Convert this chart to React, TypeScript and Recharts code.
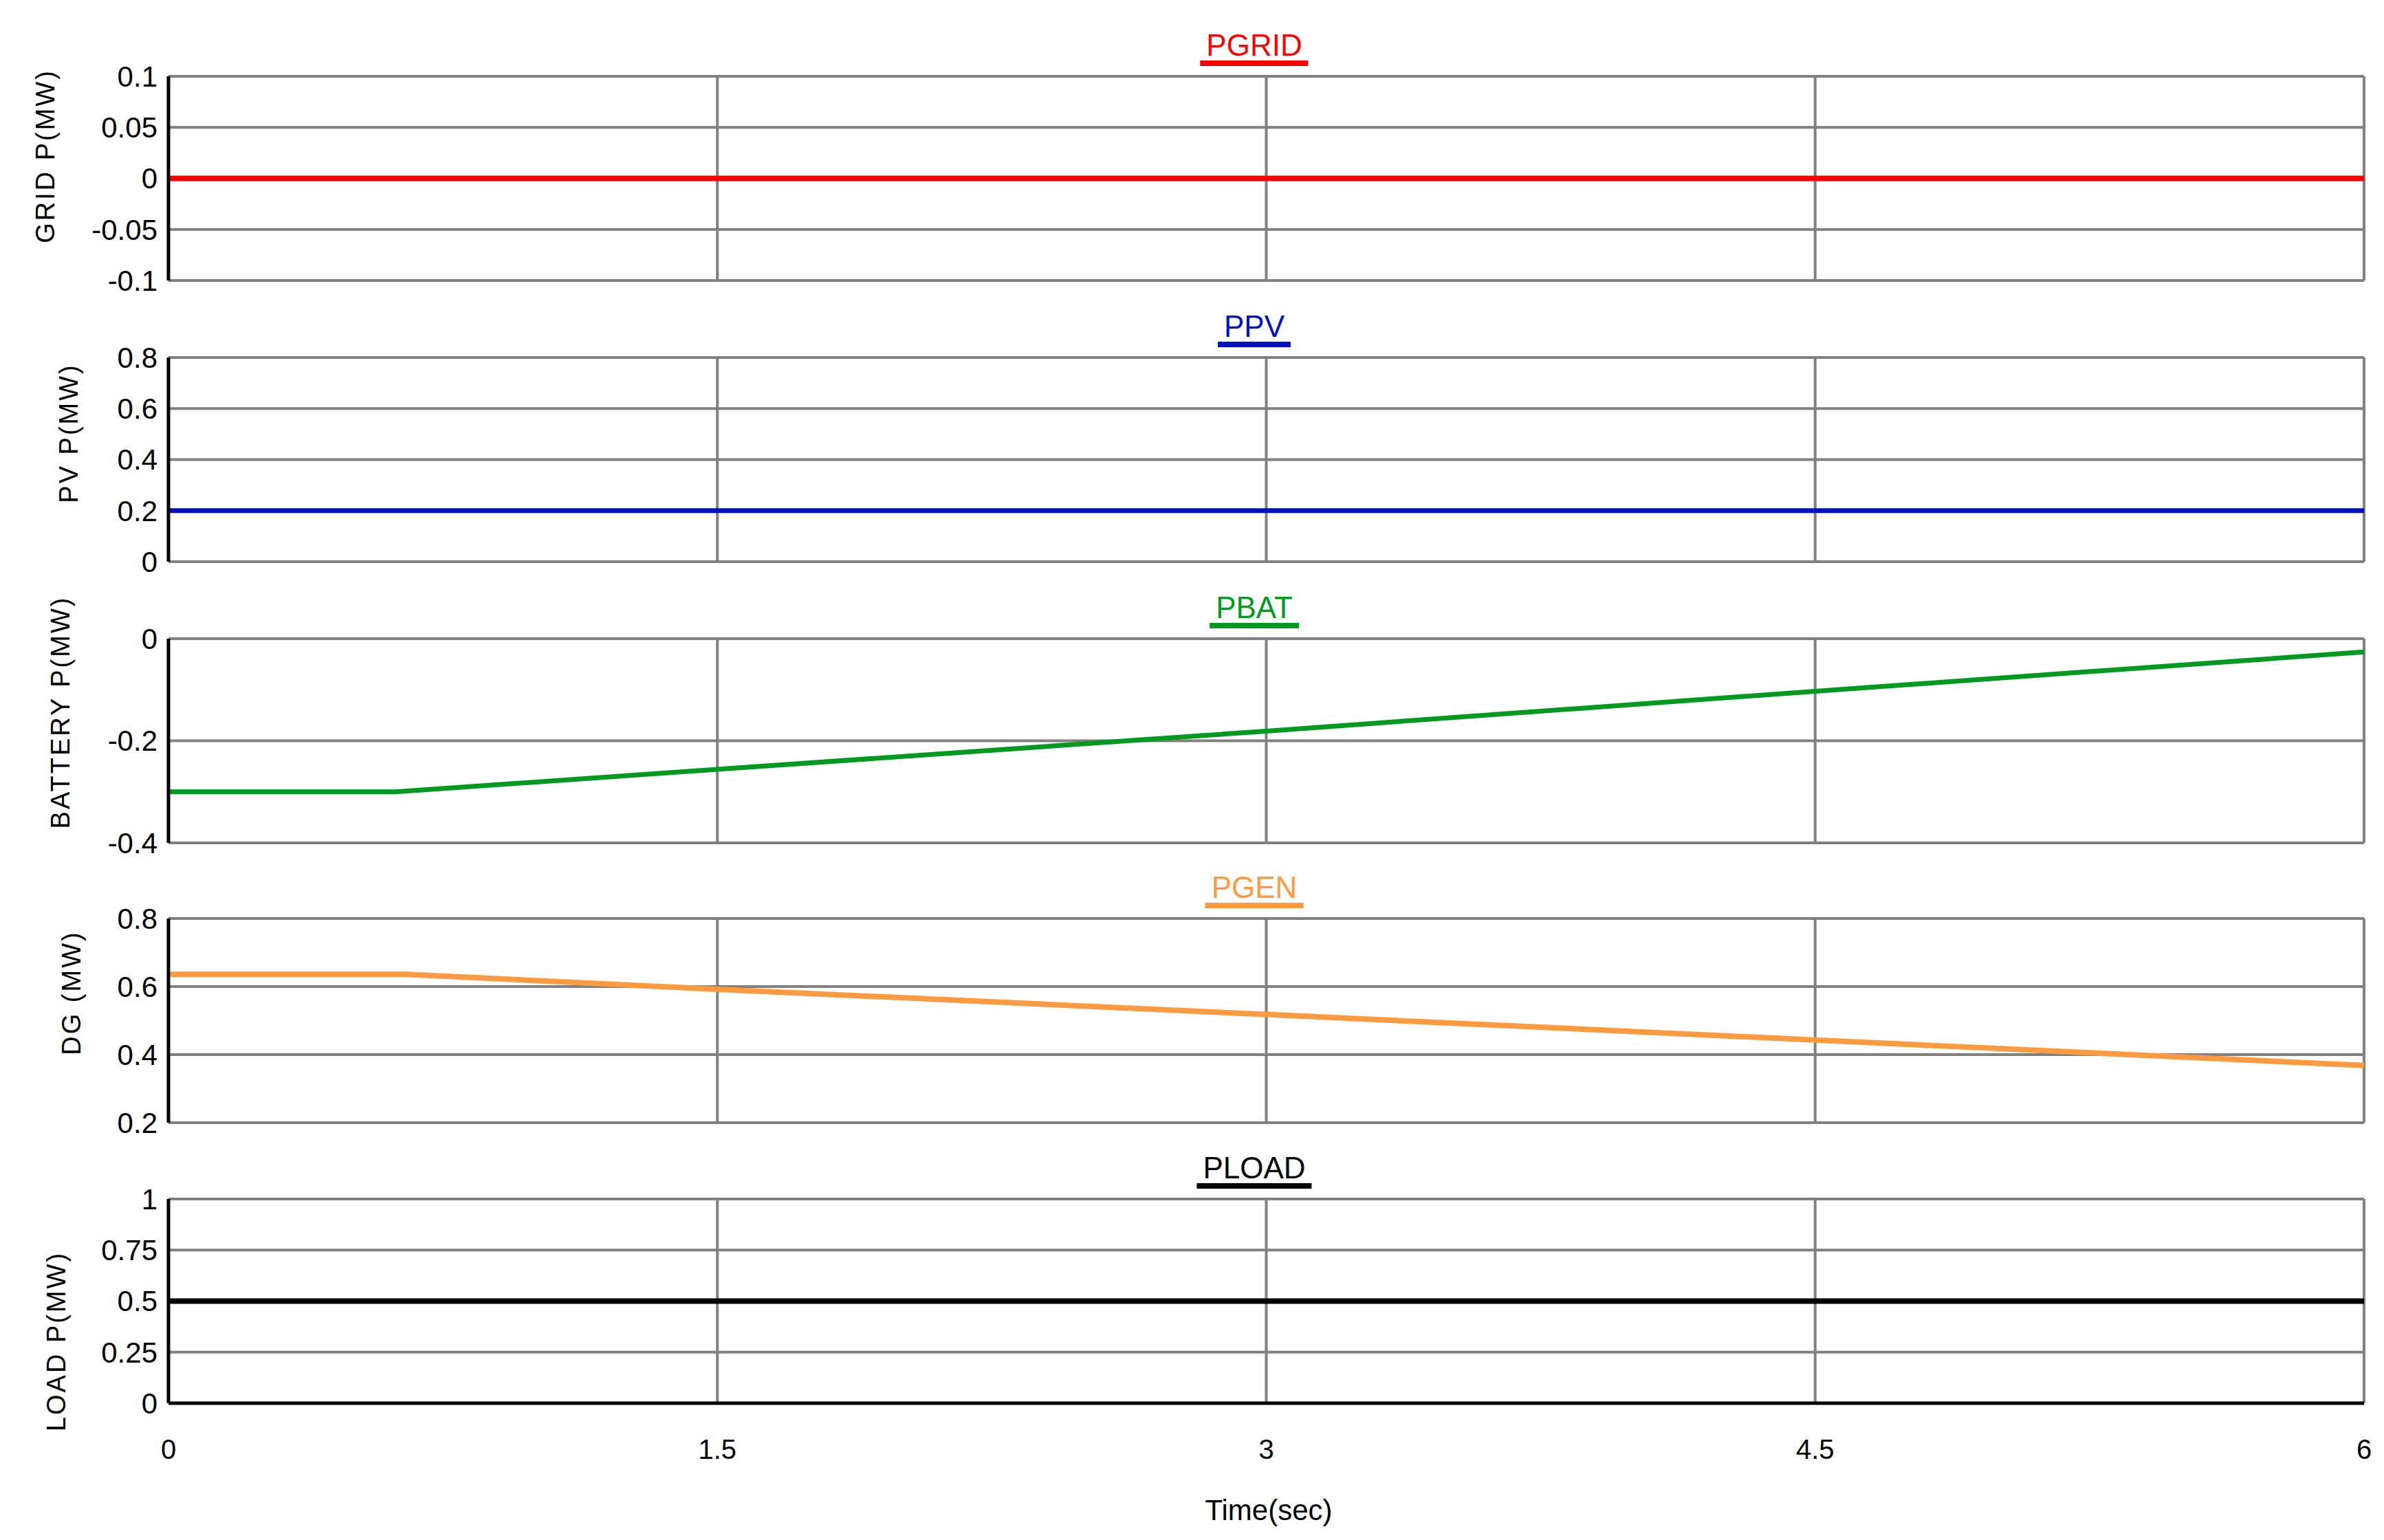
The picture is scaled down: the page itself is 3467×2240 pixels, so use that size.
import React from "react";
import {
  LineChart,
  Line,
  XAxis,
  YAxis,
  CartesianGrid,
} from "recharts";

// time axis
const TIME_TICKS = [0, 1.5, 3, 4.5, 6];

// series values (time in s, power in MW)
const gridT = [0, 6];
const gridP = [0, 0];

const pvT = [0, 6];
const pvP = [0.2, 0.2];

const batT = [0, 0.62, 1.5, 3, 4.5, 6];
const batP = [-0.3, -0.3, -0.256, -0.181, -0.103, -0.026];

const genT = [0, 0.65, 1.5, 3, 4.5, 6];
const genP = [0.636, 0.636, 0.592, 0.518, 0.443, 0.368];

const loadT = [0, 6];
const loadP = [0.5, 0.5];

// y ticks per panel
const gridTicks = [-0.1, -0.05, 0, 0.05, 0.1];
const pvTicks = [0, 0.2, 0.4, 0.6, 0.8];
const batTicks = [-0.4, -0.2, 0];
const genTicks = [0.2, 0.4, 0.6, 0.8];
const loadTicks = [0, 0.25, 0.5, 0.75, 1];

const toRows = (t: number[], v: number[]) => t.map((x, i) => ({ t: x, v: v[i] }));

const FONT = "'Liberation Sans', Arial, sans-serif";
const W = 3467;
const TOP_M = 100;
const PLOT_H = 297;

const panels = [
  { title: "PGRID", ylabel: "GRID P(MW)", color: "#ff0000", width: 8, rows: toRows(gridT, gridP), ticks: gridTicks, plotTop: 111, labelX: 66, labelY: 227 },
  { title: "PPV", ylabel: "PV P(MW)", color: "#0010c8", width: 7, rows: toRows(pvT, pvP), ticks: pvTicks, plotTop: 520, labelX: 100, labelY: 630 },
  { title: "PBAT", ylabel: "BATTERY P(MW)", color: "#009a20", width: 7, rows: toRows(batT, batP), ticks: batTicks, plotTop: 929, labelX: 88, labelY: 1036 },
  { title: "PGEN", ylabel: "DG (MW)", color: "#ff9a40", width: 8, rows: toRows(genT, genP), ticks: genTicks, plotTop: 1336, labelX: 104, labelY: 1444 },
  { title: "PLOAD", ylabel: "LOAD P(MW)", color: "#000000", width: 8, rows: toRows(loadT, loadP), ticks: loadTicks, plotTop: 1744, labelX: 82, labelY: 1951 },
];

const fmt = (v: number) => String(v);
const NoTick = () => <g />;

function Panel({ p, last }: { p: (typeof panels)[number]; last: boolean }) {
  const chartTop = Math.max(0, p.plotTop - TOP_M);
  const topM = p.plotTop - chartTop;
  const height = last ? 2240 - chartTop : topM + PLOT_H + 51;
  const bottom = height - topM - PLOT_H - (last ? 150 : 0);
  const lo = p.ticks[0];
  const hi = p.ticks[p.ticks.length - 1];
  return (
    <div style={{ position: "absolute", left: 0, top: chartTop }}>
      <LineChart
        width={W}
        height={height}
        data={p.rows}
        margin={{ top: topM, right: 29, left: 0, bottom }}
      >
        <CartesianGrid stroke="#808080" strokeWidth={4} />
        <XAxis
          dataKey="t"
          type="number"
          domain={[0, 6]}
          ticks={TIME_TICKS}
          interval={0}
          height={last ? 150 : 0}
          tick={last ? { fontSize: 40, fill: "#000", fontFamily: FONT } : NoTick}
          tickLine={false}
          tickSize={0}
          tickMargin={53}
          axisLine={{ stroke: "#000", strokeWidth: 5 }}
          tickFormatter={fmt}
          label={
            last
              ? {
                  content: () => (
                    <text x={1845} y={2211 - chartTop} textAnchor="middle" fontSize={42} fontFamily={FONT} fill="#000">
                      Time(sec)
                    </text>
                  ),
                }
              : undefined
          }
        />
        <YAxis
          type="number"
          domain={[lo, hi]}
          ticks={p.ticks}
          interval={0}
          width={245}
          tick={{ fontSize: 42, fill: "#000", fontFamily: FONT }}
          tickLine={false}
          tickSize={0}
          tickMargin={16}
          axisLine={{ stroke: "#000", strokeWidth: 5 }}
          tickFormatter={fmt}
          label={{
            content: () => {
              const y = p.labelY - chartTop;
              return (
                <text
                  x={p.labelX}
                  y={y}
                  transform={`rotate(-90 ${p.labelX} ${y})`}
                  textAnchor="middle"
                  dominantBaseline="central"
                  fontSize={38}
                  letterSpacing={3}
                  fontFamily={FONT}
                  fill="#000"
                >
                  {p.ylabel}
                </text>
              );
            },
          }}
        />
        <Line
          type="linear"
          dataKey="v"
          stroke={p.color}
          strokeWidth={p.width}
          dot={false}
          isAnimationActive={false}
        />
      </LineChart>
      <div
        style={{
          position: "absolute",
          left: 1824,
          top: topM - 67,
          transform: "translateX(-50%)",
          fontFamily: FONT,
          fontSize: 44,
          lineHeight: "44px",
          color: p.color,
          padding: "0 9px",
          borderBottom: `8px solid ${p.color}`,
          whiteSpace: "nowrap",
        }}
      >
        {p.title}
      </div>
    </div>
  );
}

export default function App() {
  return (
    <div style={{ position: "absolute", left: 0, top: 0, width: W, height: 2240, background: "#fff" }}>
      {panels.map((p, i) => (
        <Panel key={p.title} p={p} last={i === panels.length - 1} />
      ))}
    </div>
  );
}
